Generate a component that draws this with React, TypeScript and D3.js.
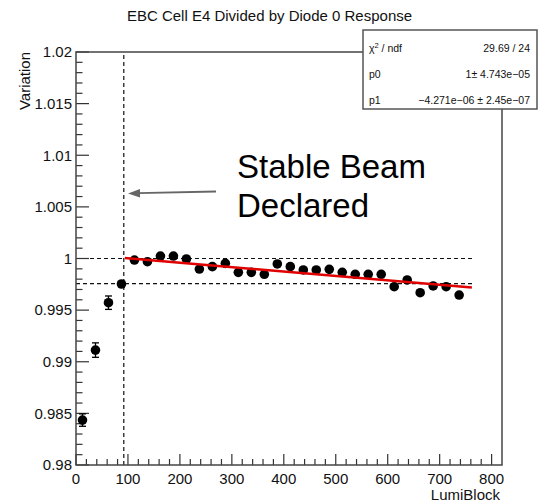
import React from "react";
import * as d3 from "d3";

const lumiBlocks = [
  12.5, 37.5, 62.5, 87.5, 112.5, 137.5, 162.5, 187.5, 212.5, 237.5, 262.5, 287.5, 312.5, 337.5, 362.5,
  387.5, 412.5, 437.5, 462.5, 487.5, 512.5, 537.5, 562.5, 587.5, 612.5, 637.5, 662.5, 687.5, 712.5, 737.5,
];
const variation = [
  0.98435, 0.99113, 0.99572, 0.99753, 0.99985, 0.99969, 1.00024, 1.00024, 0.99995, 0.99898, 0.99921,
  0.99953, 0.99866, 0.99866, 0.99847, 0.99947, 0.99921, 0.99889, 0.99889, 0.99895, 0.99866, 0.99847,
  0.99847, 0.99847, 0.99727, 0.99792, 0.99669, 0.99734, 0.99727, 0.99646,
];
const variationErr = [
  0.0006, 0.0007, 0.00065, 0.0002, 0.00015, 0.00015, 0.00015, 0.00015, 0.00015, 0.00015, 0.00015,
  0.00015, 0.00015, 0.00015, 0.00015, 0.00015, 0.00015, 0.00015, 0.00015, 0.00015, 0.00015, 0.00015,
  0.00015, 0.00015, 0.00015, 0.00015, 0.00015, 0.00015, 0.00015, 0.00015,
];
const fitP0 = 1.00045;
const fitP1 = -4.271e-6;
const fitRange = [94, 762];
const stableBeamLumi = 92;
const refLevels = [1.0, 0.99757];
const refLineEnd = 763;

const xTickLabels = ["0", "100", "200", "300", "400", "500", "600", "700", "800"];
const yTickLabels = ["0.98", "0.985", "0.99", "0.995", "1", "1.005", "1.01", "1.015", "1.02"];
const statsRows = [
  ["χ2 / ndf", "29.69 / 24"],
  ["p0", "1± 4.743e−05"],
  ["p1", "−4.271e−06 ± 2.45e−07"],
];

const W = 539;
const H = 503;
const FONT = "'Liberation Sans', Arial, Helvetica, sans-serif";

export default function App() {
  const x = d3.scaleLinear().domain([0, 820]).range([76, 502]);
  const y = d3.scaleLinear().domain([0.98, 1.02]).range([465, 52]);
  const [x0, x1] = x.range();
  const [y0, y1] = y.range();

  const xMinor = d3.range(0, 41).map((i) => i * 20).filter((v) => v <= 820);
  const yMinor = d3.range(0, 41).map((i) => 0.98 + i * 0.001);

  const fitLine = d3
    .line<number>()
    .x((d) => x(d))
    .y((d) => y(fitP0 + fitP1 * d));

  return (
    <svg
      width={W}
      height={H}
      style={{ position: "absolute", left: 0, top: 0, background: "#fff" }}
      fontFamily={FONT}
    >
      <rect x={0} y={0} width={W} height={H} fill="#fff" />
      {/* title */}
      <text x={W / 2} y={21} textAnchor="middle" fontSize={15} fill="#111">
        EBC Cell E4 Divided by Diode 0 Response
      </text>

      {/* reference dashed lines */}
      {refLevels.map((v, i) => (
        <line
          key={"h" + i}
          x1={x(0)}
          x2={x(refLineEnd)}
          y1={y(v)}
          y2={y(v)}
          stroke="#111"
          strokeWidth={1.2}
          strokeDasharray="4,3"
        />
      ))}
      <line
        x1={x(stableBeamLumi)}
        x2={x(stableBeamLumi)}
        y1={y0}
        y2={y1}
        stroke="#111"
        strokeWidth={1.2}
        strokeDasharray="4,3"
      />

      {/* axes ticks */}
      {xMinor.map((v) => {
        const major = v % 100 === 0;
        return (
          <line key={"xt" + v} x1={x(v)} x2={x(v)} y1={y0} y2={y0 - (major ? 11 : 6)} stroke="#333" strokeWidth={1.2} />
        );
      })}
      {yMinor.map((v, i) => {
        const major = i % 5 === 0;
        return (
          <line key={"yt" + i} x1={x0} x2={x0 + (major ? 13 : 6.5)} y1={y(v)} y2={y(v)} stroke="#333" strokeWidth={1.2} />
        );
      })}
      {xTickLabels.map((t) => (
        <text key={"xl" + t} x={x(+t)} y={484} textAnchor="middle" fontSize={15} fill="#111">
          {t}
        </text>
      ))}
      {yTickLabels.map((t) => (
        <text key={"yl" + t} x={72} y={y(+t)} dy="0.35em" textAnchor="end" fontSize={15} fill="#111">
          {t}
        </text>
      ))}
      <text x={500} y={500} textAnchor="end" fontSize={15} fill="#111">
        LumiBlock
      </text>
      <text transform={`translate(30,${y1}) rotate(-90)`} textAnchor="end" fontSize={15} fill="#111">
        Variation
      </text>

      {/* data */}
      {lumiBlocks.map((l, i) => {
        const cx = x(l);
        const lo = y(variation[i] - variationErr[i]);
        const hi = y(variation[i] + variationErr[i]);
        return (
          <g key={"p" + i}>
            <line x1={cx} x2={cx} y1={lo} y2={hi} stroke="#000" strokeWidth={1.3} />
            <line x1={cx - 3.5} x2={cx + 3.5} y1={lo} y2={lo} stroke="#000" strokeWidth={1.3} />
            <line x1={cx - 3.5} x2={cx + 3.5} y1={hi} y2={hi} stroke="#000" strokeWidth={1.3} />
            <circle cx={cx} cy={y(variation[i])} r={4.8} fill="#000" />
          </g>
        );
      })}
      <path d={fitLine(fitRange) || ""} fill="none" stroke="#e00000" strokeWidth={2.5} />

      {/* frame */}
      <rect x={x0} y={y1} width={x1 - x0} height={y0 - y1} fill="none" stroke="#444" strokeWidth={1.5} />

      {/* annotation */}
      <text x={237} y={178} fontSize={33} fill="#000">
        Stable Beam
      </text>
      <text x={237} y={217} fontSize={33} fill="#000">
        Declared
      </text>
      <line x1={216} y1={191.5} x2={138} y2={193.2} stroke="#666" strokeWidth={1.8} />
      <path d="M128,193.4 L140,189 L140,197.6 Z" fill="#666" />

      {/* stats box */}
      <rect x={363} y={30} width={174} height={79} fill="#fff" stroke="#555" strokeWidth={1.5} />
      {statsRows.map((r, i) => (
        <g key={"s" + i}>
          <text x={369} y={48 + i * 26} dy="0.35em" fontSize={10.5} fill="#111">
            {i === 0 ? (
              <>
                χ<tspan dy="-4" fontSize={7.5}>2</tspan>
                <tspan dy="4"> / ndf</tspan>
              </>
            ) : (
              r[0]
            )}
          </text>
          <text x={530} y={48 + i * 26} dy="0.35em" textAnchor="end" fontSize={10.5} fill="#111">
            {r[1]}
          </text>
        </g>
      ))}
    </svg>
  );
}
